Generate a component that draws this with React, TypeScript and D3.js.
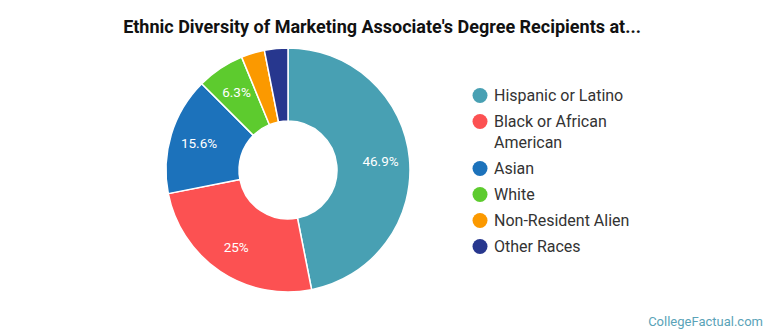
import React from "react";
import * as d3 from "d3";

const categories = ["Hispanic or Latino", "Black or African American", "Asian", "White", "Non-Resident Alien", "Other Races"];
const legendLines = [["Hispanic or Latino"], ["Black or African", "American"], ["Asian"], ["White"], ["Non-Resident Alien"], ["Other Races"]];
const values = [46.9, 25, 15.6, 6.3, 3.1, 3.1];
const labels = ["46.9%", "25%", "15.6%", "6.3%", "", ""];
const colors = ["#48a0b3", "#fc5152", "#1c72bb", "#5dcb2e", "#fb9900", "#27378e"];

const W = 770, H = 335;
const cx = 288, cy = 170, rOuter = 122, rInner = 49;

export default function App() {
  const pie = d3.pie<number>().sort(null).value((d) => d)(values);
  const arc = d3.arc<d3.PieArcDatum<number>>().innerRadius(rInner).outerRadius(rOuter);
  const labelArc = d3.arc<d3.PieArcDatum<number>>().innerRadius(93).outerRadius(93);

  let y = 95.5;
  const legendRows: { i: number; y: number }[] = [];
  legendLines.forEach((lines, i) => {
    legendRows.push({ i, y });
    y += 21 * (lines.length - 1) + 26;
  });

  return (
    <svg width={W} height={H} style={{ position: "absolute", left: 0, top: 0, fontFamily: "Roboto, sans-serif" }}>
      <rect width={W} height={H} fill="#fff" />
      <text x={382} y={33} textAnchor="middle" fontSize={18} fontWeight="bold" fill="#111">
        Ethnic Diversity of Marketing Associate's Degree Recipients at...
      </text>
      <g transform={`translate(${cx},${cy})`}>
        {pie.map((p, i) => (
          <path key={i} d={arc(p) || ""} fill={colors[i]} stroke="#fff" strokeWidth={1.5} strokeLinejoin="round" />
        ))}
        {pie.map((p, i) => {
          if (!labels[i]) return null;
          const [lx, ly] = labelArc.centroid(p);
          return (
            <text key={i} x={lx} y={ly} dy="0.35em" textAnchor="middle" fontSize={13.5} fill="#fff">
              {labels[i]}
            </text>
          );
        })}
      </g>
      {legendRows.map(({ i, y }) => (
        <g key={i}>
          <circle cx={480} cy={y} r={7.5} fill={colors[i]} />
          {legendLines[i].map((line, j) => (
            <text key={j} x={494} y={y + j * 21} dy="0.35em" fontSize={16} fill="#333">
              {line}
            </text>
          ))}
        </g>
      ))}
      <text x={763} y={326} textAnchor="end" fontSize={13} fill="#5aa3b8">
        CollegeFactual.com
      </text>
    </svg>
  );
}
